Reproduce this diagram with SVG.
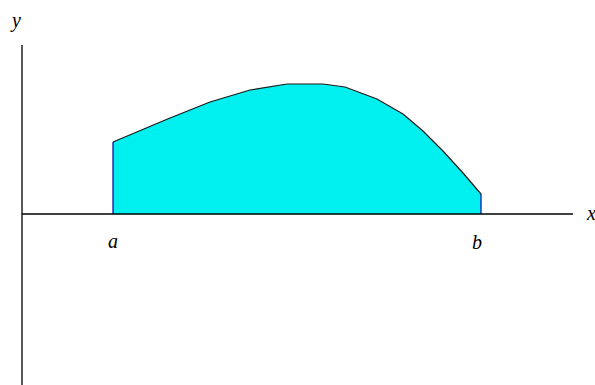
<svg xmlns="http://www.w3.org/2000/svg" width="595" height="385" viewBox="0 0 595 385">
<style>
.lbl{font-family:"Liberation Serif","DejaVu Serif",serif;font-style:italic;font-size:20px;fill:#000}
.axis{stroke:#000;stroke-width:1.3;fill:none}
</style>
<rect width="595" height="385" fill="#fff"/>
<g id="region">
<path d="M113,214 L113,142 L170,118 L210,102 L250,90 L287,84 L323,84 L345,87 L377,99 L403,114 L423,131 L443,151 L463,173 L481,194 L481,214 Z" fill="#00f0f0" stroke="none"/>
<path d="M113,142 L170,118 L210,102 L250,90 L287,84 L323,84 L345,87 L377,99 L403,114 L423,131 L443,151 L463,173 L481,194" fill="none" stroke="#1a1a1a" stroke-width="1.2"/>
<line x1="113" y1="142" x2="113" y2="214" stroke="#0000a0" stroke-width="1.2"/>
<line x1="481" y1="194" x2="481" y2="214" stroke="#0000a0" stroke-width="1.2"/>
</g>
<g id="axes">
<line class="axis" x1="22" y1="45" x2="22" y2="385"/>
<line class="axis" x1="22" y1="214" x2="573" y2="214"/>
</g>
<g id="labels">
<text class="lbl" x="12" y="27">y</text>
<text class="lbl" x="587" y="220">x</text>
<text class="lbl" x="108" y="248">a</text>
<text class="lbl" x="472" y="249">b</text>
</g>
</svg>
